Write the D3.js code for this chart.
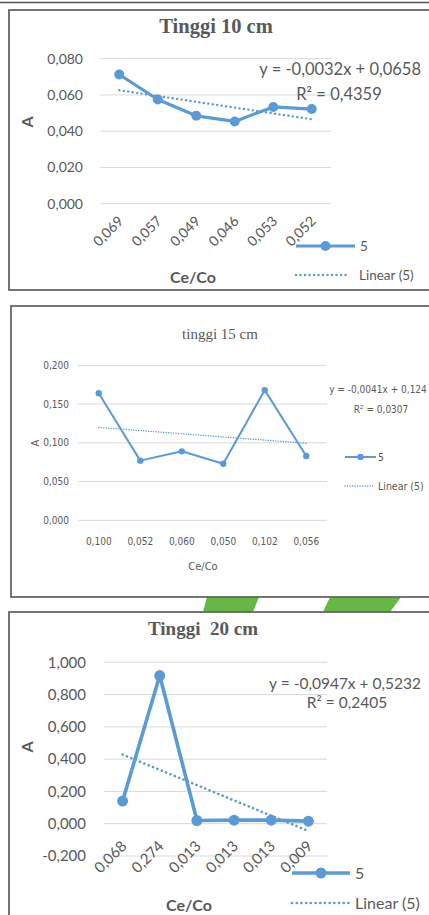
<!DOCTYPE html>
<html>
<head>
<meta charset="utf-8">
<script src="https://cdn.jsdelivr.net/npm/d3@7"></script>
<style>
  body { margin: 0; background: #fff; }
  svg text { white-space: pre; }
</style>
</head>
<body>
<div id="chart"></div>
<script>
// DATA
var cats10 = ["0,069", "0,057", "0,049", "0,046", "0,053", "0,052"];
var vals10 = [0.0713, 0.0575, 0.0485, 0.0454, 0.0534, 0.0522];
var ticks10 = [0, 0.02, 0.04, 0.06, 0.08];
var trend10 = [-0.0032, 0.0658];
var r2_10 = "0,4359";

var cats15 = ["0,100", "0,052", "0,060", "0,050", "0,102", "0,056"];
var vals15 = [0.164, 0.077, 0.089, 0.073, 0.168, 0.083];
var ticks15 = [0, 0.05, 0.10, 0.15, 0.20];
var trend15 = [-0.0041, 0.124];
var r2_15 = "0,0307";

var cats20 = ["0,068", "0,274", "0,013", "0,013", "0,013", "0,009"];
var vals20 = [0.140, 0.918, 0.020, 0.022, 0.022, 0.016];
var ticks20 = [-0.2, 0, 0.2, 0.4, 0.6, 0.8, 1.0];
var trend20 = [-0.0947, 0.5232];
var r2_20 = "0,2405";

var blue = "#5b9bd5";
var grey = "#595959";

var svg = d3.select("#chart").append("svg")
    .attr("width", 429)
    .attr("height", 915);

// top rule from the page above
svg.append("line")
    .attr("x1", 0).attr("x2", 429).attr("y1", 2.5).attr("y2", 2.5)
    .attr("stroke", "#555").attr("stroke-width", 1.5);

// green background slashes between chart 2 and 3
svg.append("polygon")
    .attr("points", "207,597 259,597 253,612 203,612")
    .attr("fill", "#64b843");
svg.append("polygon")
    .attr("points", "330,597 401,597 390,612 323,612")
    .attr("fill", "#64b843");

function fmt(d) { return d.toFixed(3).replace(".", ","); }
function num(d) { return String(d).replace(".", ","); }

function drawChart(c) {
    var g = svg.append("g");

    // frame
    g.append("rect")
        .attr("x", c.box[0]).attr("y", c.box[1])
        .attr("width", c.box[2]).attr("height", c.box[3])
        .attr("fill", "#fff")
        .attr("stroke", "#666").attr("stroke-width", 1.8);

    var x = d3.scalePoint()
        .domain(d3.range(c.cats.length))
        .range([c.px[0], c.px[1]])
        .padding(0.5);

    var y = d3.scaleLinear()
        .domain([c.ticks[0], c.ticks[c.ticks.length - 1]])
        .range([c.py[0], c.py[1]]);

    // gridlines
    g.selectAll(".grid").data(c.ticks).enter().append("line")
        .attr("x1", c.px[0]).attr("x2", c.px[1])
        .attr("y1", function(d) { return y(d); })
        .attr("y2", function(d) { return y(d); })
        .attr("stroke", "#d9d9d9").attr("stroke-width", 1);

    // y tick labels
    g.selectAll(".ytick").data(c.ticks).enter().append("text")
        .attr("x", c.ylabX)
        .attr("y", function(d) { return y(d); })
        .attr("dy", "0.35em")
        .attr("text-anchor", "end")
        .attr("font-family", c.font)
        .attr("font-size", c.tickSize)
        .attr("fill", grey)
        .text(fmt);

    // x tick labels
    var xt = g.selectAll(".xtick").data(c.cats).enter().append("text")
        .attr("font-family", c.font)
        .attr("font-size", c.tickSize)
        .attr("fill", grey)
        .text(function(d) { return d; });
    if (c.rotate) {
        xt.attr("text-anchor", "end")
          .attr("transform", function(d, i) {
              return "translate(" + (x(i) + c.xlabDx) + "," + c.xlabY + ") rotate(-45)";
          });
    } else {
        xt.attr("text-anchor", "middle")
          .attr("x", function(d, i) { return x(i); })
          .attr("y", c.xlabY)
          .attr("dy", "0.35em");
    }

    // trend line
    var tl = d3.line()
        .x(function(d) { return x(d); })
        .y(function(d) { return y(c.trend[0] * (d + 1) + c.trend[1]); });
    g.append("path")
        .attr("d", tl(d3.range(c.cats.length)))
        .attr("fill", "none")
        .attr("stroke", blue)
        .attr("stroke-width", c.dotW)
        .attr("stroke-linecap", "round")
        .attr("stroke-dasharray", c.dash);

    // series line
    var sl = d3.line()
        .x(function(d, i) { return x(i); })
        .y(function(d) { return y(d); });
    g.append("path")
        .attr("d", sl(c.vals))
        .attr("fill", "none")
        .attr("stroke", blue)
        .attr("stroke-width", c.lineW)
        .attr("stroke-linejoin", "round");

    g.selectAll(".pt").data(c.vals).enter().append("circle")
        .attr("cx", function(d, i) { return x(i); })
        .attr("cy", function(d) { return y(d); })
        .attr("r", c.r)
        .attr("fill", blue);

    // title
    g.append("text")
        .attr("x", c.title[1]).attr("y", c.title[2])
        .attr("text-anchor", "middle")
        .attr("font-family", "'Liberation Serif', 'Times New Roman', serif")
        .attr("font-weight", c.titleBold ? "bold" : "normal")
        .attr("font-size", c.titleSize)
        .attr("fill", grey)
        .text(c.title[0]);

    // axis labels
    g.append("text")
        .attr("transform", "translate(" + c.aPos[0] + "," + c.aPos[1] + ") rotate(-90)")
        .attr("text-anchor", "middle")
        .attr("dy", "0.35em")
        .attr("font-family", c.font)
        .attr("font-weight", c.labelBold ? "bold" : "normal")
        .attr("font-size", c.labelSize)
        .attr("fill", grey)
        .text("A");

    g.append("text")
        .attr("x", c.cePos[0]).attr("y", c.cePos[1])
        .attr("text-anchor", "middle")
        .attr("dy", "0.35em")
        .attr("font-family", c.font)
        .attr("font-weight", c.labelBold ? "bold" : "normal")
        .attr("font-size", c.labelSize)
        .attr("fill", grey)
        .text("Ce/Co");

    // equation
    var eq = "y = " + num(c.trend[0]) + "x + " + num(c.trend[1]);
    g.append("text")
        .attr("x", c.eqPos[0]).attr("y", c.eqPos[1])
        .attr("text-anchor", c.eqAnchor)
        .attr("dy", "0.35em")
        .attr("font-family", c.font)
        .attr("font-size", c.eqSize)
        .attr("fill", grey)
        .text(eq);
    g.append("text")
        .attr("x", c.r2Pos[0]).attr("y", c.r2Pos[1])
        .attr("text-anchor", "middle")
        .attr("dy", "0.35em")
        .attr("font-family", c.font)
        .attr("font-size", c.eqSize)
        .attr("fill", grey)
        .text("R\u00B2 = " + c.r2);

    // legend
    var L = c.legend;
    g.append("line")
        .attr("x1", L.x1).attr("x2", L.x2).attr("y1", L.y1).attr("y2", L.y1)
        .attr("stroke", blue).attr("stroke-width", c.lineW);
    g.append("circle")
        .attr("cx", (L.x1 + L.x2) / 2).attr("cy", L.y1).attr("r", c.r)
        .attr("fill", blue);
    g.append("text")
        .attr("x", L.tx).attr("y", L.y1).attr("dy", "0.35em")
        .attr("font-family", c.font).attr("font-size", L.size)
        .attr("fill", grey).text("5");
    g.append("line")
        .attr("x1", L.x1).attr("x2", L.dx2).attr("y1", L.y2).attr("y2", L.y2)
        .attr("stroke", blue).attr("stroke-width", c.dotW)
        .attr("stroke-linecap", "round")
        .attr("stroke-dasharray", c.dash);
    g.append("text")
        .attr("x", L.tx2).attr("y", L.y2).attr("dy", "0.35em")
        .attr("font-family", c.font).attr("font-size", L.size)
        .attr("fill", grey).text("Linear (5)");
}

var sans = "Lato, 'Open Sans', sans-serif";
var narrow = "'Liberation Sans Narrow', 'DejaVu Sans Condensed', sans-serif";

// CHART 1
drawChart({
    box: [9, 10, 425, 280],
    px: [100, 331], py: [203.7, 58.7],
    cats: cats10, vals: vals10, ticks: ticks10, trend: trend10, r2: r2_10,
    font: sans, tickSize: 14, ylabX: 83,
    rotate: true, xlabDx: 5, xlabY: 222,
    title: ["Tinggi 10 cm", 216, 33], titleBold: true, titleSize: 20.5,
    aPos: [27, 122], cePos: [193, 277], labelBold: true, labelSize: 16,
    eqPos: [421, 69], eqAnchor: "end", r2Pos: [339, 94], eqSize: 16.5,
    lineW: 3.2, r: 5, dotW: 2.4, dash: "0.1 4.4",
    legend: { x1: 296, x2: 355, dx2: 350, y1: 246, y2: 275, tx: 360, tx2: 359, size: 13.5 }
});

// CHART 2
drawChart({
    box: [11, 306, 425, 291],
    px: [78, 327], py: [520.3, 365.3],
    cats: cats15, vals: vals15, ticks: ticks15, trend: trend15, r2: r2_15,
    font: narrow, tickSize: 10, ylabX: 69,
    rotate: false, xlabY: 541,
    title: ["tinggi 15 cm", 220, 339], titleBold: false, titleSize: 15,
    aPos: [35, 443], cePos: [203, 566], labelBold: false, labelSize: 11,
    eqPos: [378, 389], eqAnchor: "middle", r2Pos: [381, 409], eqSize: 10,
    lineW: 2, r: 3.2, dotW: 1.4, dash: "0.1 2.4",
    legend: { x1: 345, x2: 376, dx2: 373, y1: 457, y2: 486, tx: 378, tx2: 378, size: 10.5 }
});

// CHART 3
drawChart({
    box: [9, 612, 425, 320],
    px: [104, 327], py: [856, 662.3],
    cats: cats20, vals: vals20, ticks: ticks20, trend: trend20, r2: r2_20,
    font: sans, tickSize: 15, ylabX: 86,
    rotate: true, xlabDx: 5, xlabY: 847,
    title: ["Tinggi  20 cm", 203, 635], titleBold: true, titleSize: 19,
    aPos: [27, 747], cePos: [189, 905], labelBold: true, labelSize: 16,
    eqPos: [421, 684], eqAnchor: "end", r2Pos: [347, 703], eqSize: 15.5,
    lineW: 3.6, r: 5.5, dotW: 2.6, dash: "0.1 4.6",
    legend: { x1: 292, x2: 350, dx2: 350, y1: 873, y2: 903, tx: 355, tx2: 355, size: 16 }
});
</script>
</body>
</html>
